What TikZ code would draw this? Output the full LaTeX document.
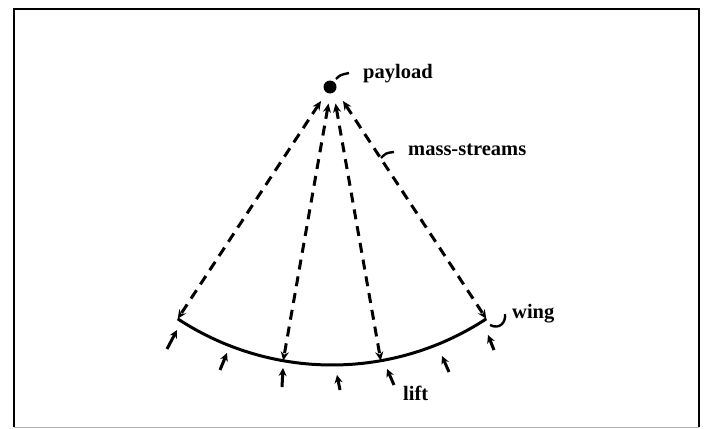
\documentclass[tikz,border=0pt]{standalone}
\usepackage{fontspec}
\setmainfont{Liberation Serif}
\usetikzlibrary{arrows.meta}
\begin{document}
\begin{tikzpicture}[x=1pt,y=-1pt,
  stream/.style={line width=3pt,dash pattern=on 10pt off 7pt,{Stealth[length=9pt,width=8pt]}-{Stealth[length=9pt,width=8pt]}},
  liftarrow/.style={line width=3pt,-{Stealth[length=8pt,width=8pt]}},
  wingline/.style={line width=3pt},
  leader/.style={line width=2.4pt},
  lbl/.style={font=\fontsize{20.5}{24}\selectfont\bfseries,anchor=base west,inner sep=0pt}]
\useasboundingbox (0,0) rectangle (708,428);
\draw[line width=2.2pt] (14,427) -- (14,9) -- (699,9) -- (699,427);
\draw[line width=1pt,black!30] (14,427) -- (699,427);
% centre of the wing arc (payload)
\coordinate (C) at (332,84);
\fill (330,87) circle (6.5);
% wing points
\coordinate (W1) at (177.7,318.8);
\coordinate (W2) at (283.2,360.7);
\coordinate (W3) at (380.8,360.7);
\coordinate (W4) at (486.3,318.8);
% top ends of mass streams
\coordinate (T1) at (321.0,101.0);
\coordinate (T2) at (328.5,103.5);
\coordinate (T3) at (335.5,103.5);
\coordinate (T4) at (343.0,101.0);
% wing
\draw[wingline] plot[domain=123.3:56.7,samples=60] ({332+281*cos(\x)},{84+281*sin(\x)});
% mass streams
\draw[stream] (T1) -- (W1);
\draw[stream] (T2) -- (W2);
\draw[stream] (T3) -- (W3);
\draw[stream] (T4) -- (W4);
% lift arrows
\coordinate (a1) at (167,349); \coordinate (b1) at (177,330);
\coordinate (a2) at (220,370); \coordinate (b2) at (227,353);
\coordinate (a3) at (282,387); \coordinate (b3) at (283,368);
\coordinate (a4) at (340,390); \coordinate (b4) at (337,375);
\coordinate (a5) at (394,385); \coordinate (b5) at (387,369);
\coordinate (a6) at (449,372); \coordinate (b6) at (442,356);
\coordinate (a7) at (494,350); \coordinate (b7) at (488,335);
\foreach \i in {1,...,7} {\draw[liftarrow] (a\i) -- (b\i);}
% labels
\node[lbl] (payload) at (363,78) {payload};
\node[lbl] (mass) at (408,155) {mass-streams};
\node[lbl] (wing) at (512,318) {wing};
\node[lbl] (lift) at (403,400) {lift};
% leaders
\coordinate (p1) at (336,79); \coordinate (p2) at (349,73);
\draw[leader] (p1) .. controls (340,75) .. (p2);
\coordinate (m1) at (381,158); \coordinate (m2) at (394,152);
\draw[leader] (m1) .. controls (386,153) .. (m2);
\coordinate (g1) at (490,325); \coordinate (g2) at (505,314);
\draw[leader] (g1) .. controls (500,330) and (506,322) .. (g2);
\end{tikzpicture}
\end{document}
